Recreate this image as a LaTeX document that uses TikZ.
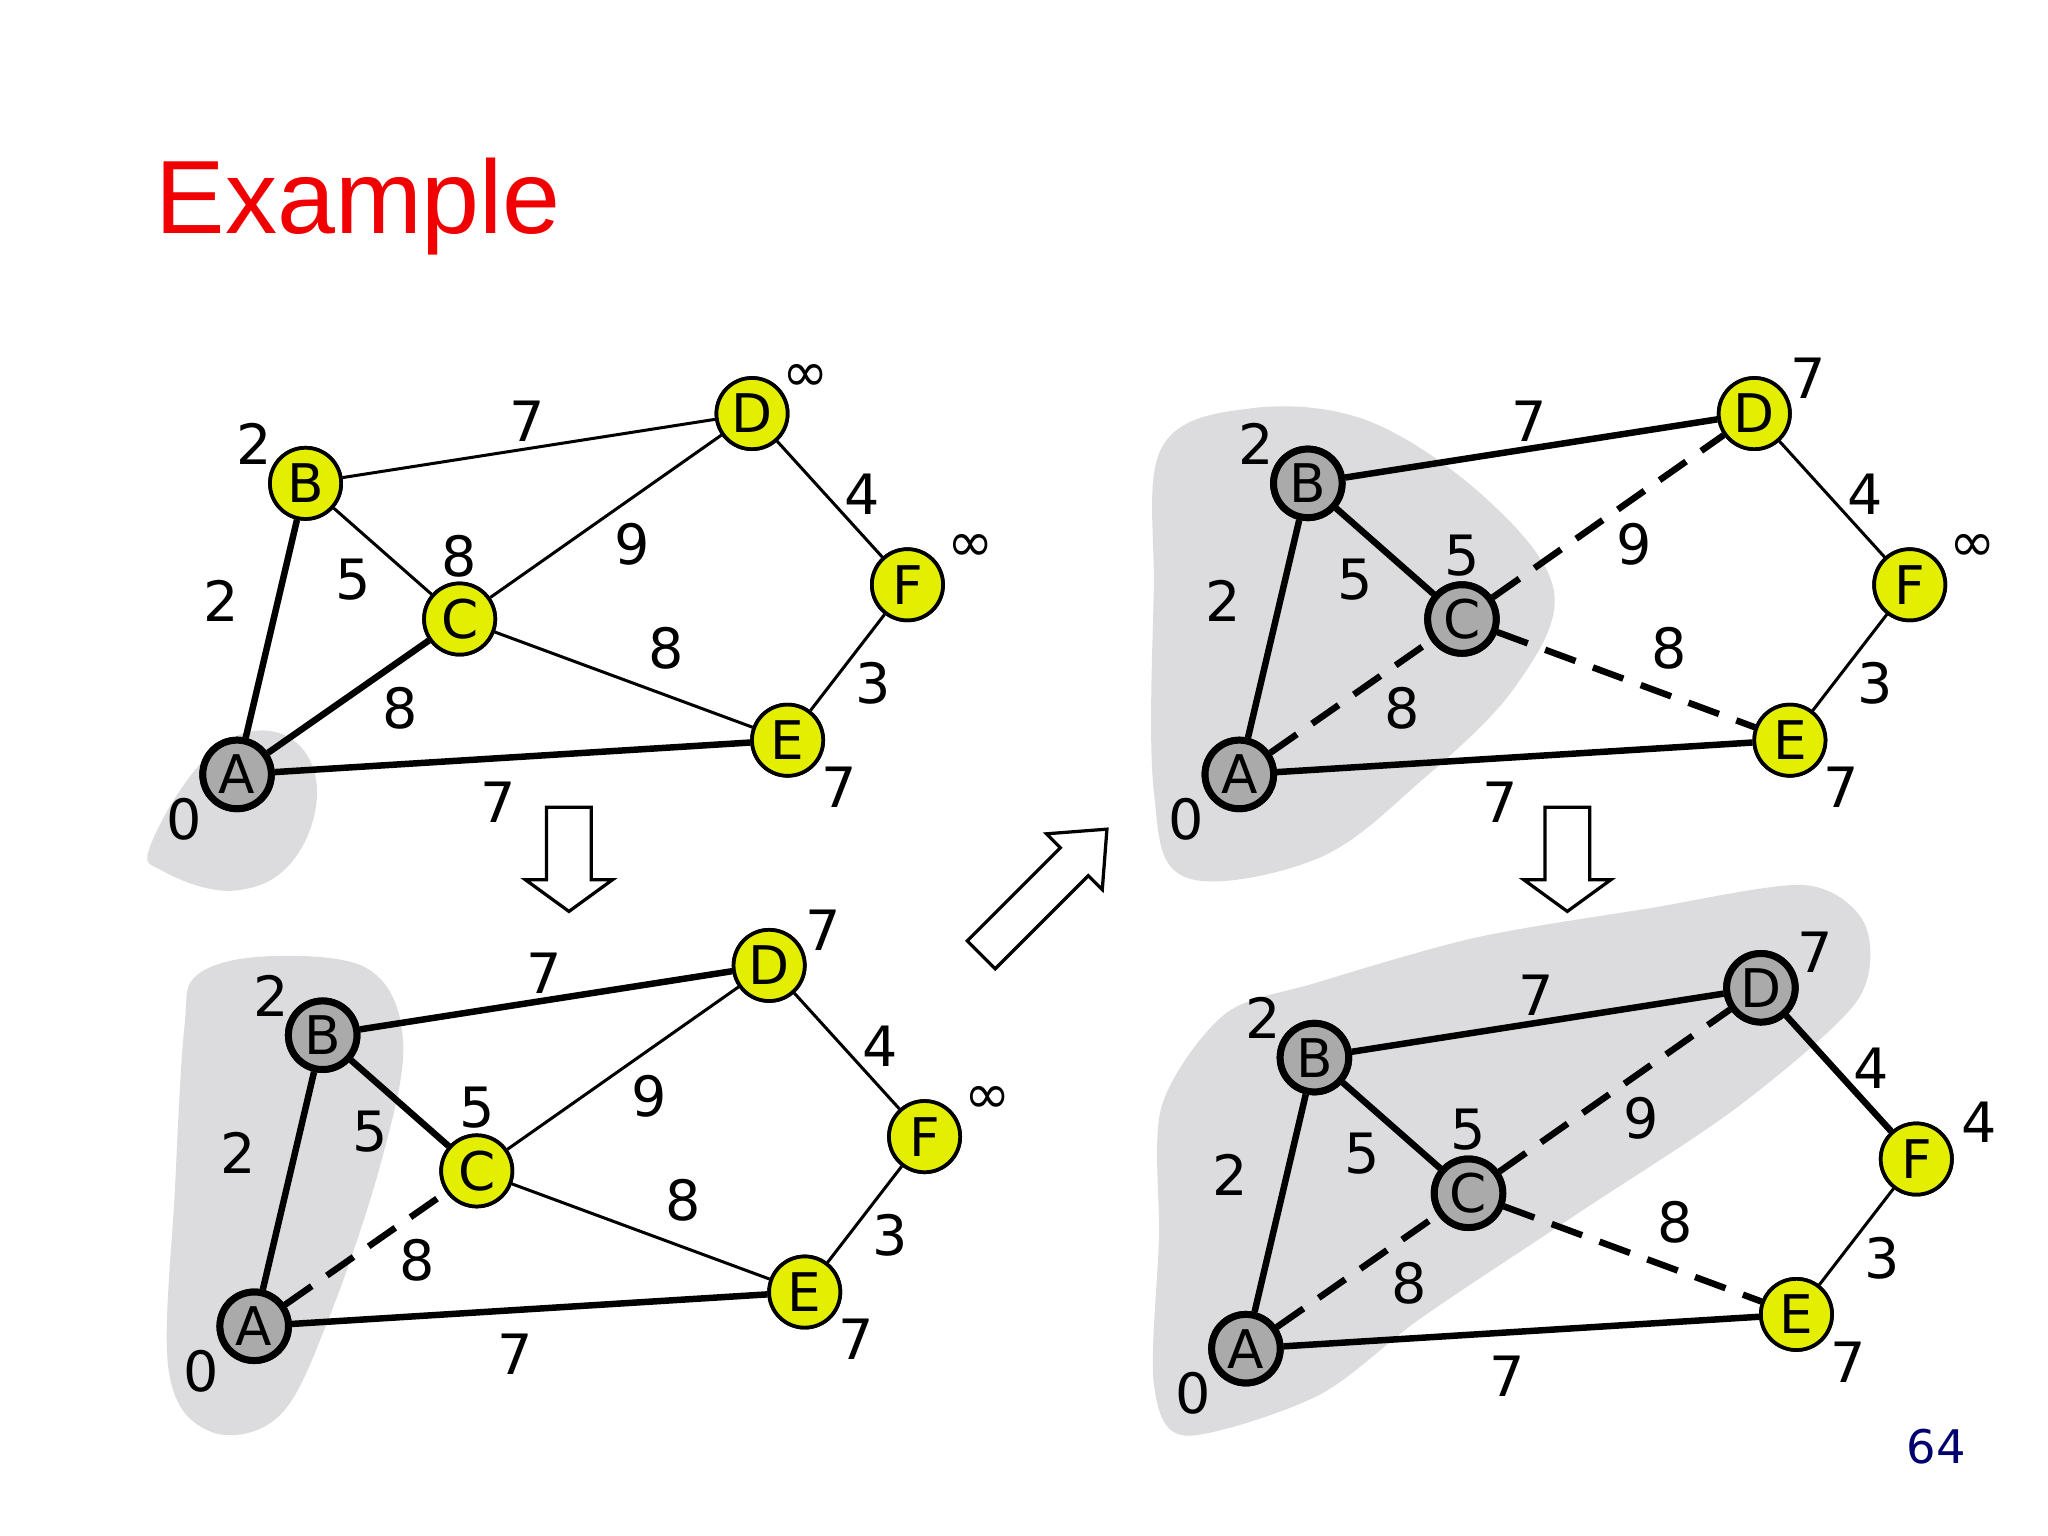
\documentclass[tikz,border=0pt]{standalone}
\usepackage{fontspec}
\setmainfont{DejaVu Sans}
\newfontfamily\titlefont{Liberation Sans}
\begin{document}
\begin{tikzpicture}[x=0.01cm,y=-0.01cm,
  yn/.style={circle,draw=black,line width=0.8pt,fill={rgb,255:red,228;green,238;blue,0},minimum size=0.54cm,inner sep=0pt,font=\fontsize{11.5}{13}\selectfont},
  gn/.style={circle,draw=black,line width=1.5pt,fill={rgb,255:red,170;green,170;blue,170},minimum size=0.52cm,inner sep=0pt,font=\fontsize{11.5}{13}\selectfont},
  th/.style={line width=0.65pt},
  tk/.style={line width=1.4pt},
  ds/.style={line width=1.4pt,dash pattern=on 7pt off 4pt},
  lb/.style={font=\fontsize{12}{14}\selectfont,inner sep=0pt},
  blob/.style={fill={rgb,255:red,220;green,219;blue,222}},
  harrow/.style={draw=black,line width=0.7pt,fill=white}]
\useasboundingbox (0,0) rectangle (1555,1166);
\fill[white] (0,0) rectangle (1555,1166);
\node[font=\titlefont\fontsize{22.5}{26}\selectfont,text={rgb,255:red,240;green,0;blue,0},inner sep=0pt] (title) at (272,157) {Example};
\node[font=\fontsize{10}{12}\selectfont,text={rgb,255:red,0;green,0;blue,110},inner sep=0pt] (pg) at (1470,1098) {64};
% blobs
\fill[blob] plot[smooth cycle,tension=0.7] coordinates {(115,640)(160,572)(210,556)(240,592)(225,650)(180,676)(125,662)};
\fill[blob] plot[smooth cycle,tension=0.6] coordinates {(150,740)(205,726)(280,736)(306,790)(290,880)(250,1000)(212,1075)(160,1087)(128,1040)(133,900)(140,780)};
\fill[blob] plot[smooth cycle,tension=0.6] coordinates {(882,340)(950,310)(1040,320)(1130,380)(1180,450)(1150,522)(1080,592)(1000,652)(900,666)(876,600)(876,450)};
\fill[blob] plot[smooth cycle,tension=0.5] coordinates {(882,840)(930,770)(1000,746)(1120,712)(1250,690)(1370,672)(1416,702)(1410,760)(1320,840)(1200,920)(1080,1000)(1000,1060)(900,1090)(876,1050)(880,940)};
% arrows
\foreach \x in {432,1190}{
 \draw[harrow] (\x-17,613) -- (\x+17,613) -- (\x+17,668) -- (\x+33,668) -- (\x,692) -- (\x-33,668) -- (\x-17,668) -- cycle;}
\begin{scope}[shift={(745,725)},rotate=45]
 \draw[harrow] (0,-15) -- (100,-15) -- (100,-30) -- (135,0) -- (100,30) -- (100,15) -- (0,15) -- cycle;
\end{scope}
\newcommand\drawgraph[7]{%
 \begin{scope}[shift={(#2)}]
 \node[#3] (#1A) at (180,588) {A};
 \node[#4] (#1B) at (232,367) {B};
 \node[#5] (#1C) at (349,470) {C};
 \node[#6] (#1D) at (571,314) {D};
 \node[#7] (#1E) at (598,562) {E};
 \node[yn] (#1F) at (689,444) {F};
 \end{scope}}
\newcommand\drawlabels[5]{%
 \begin{scope}[shift={(#2)}]
 \node[lb] (#1lA) at (140,622) {0};
 \node[lb] (#1lB) at (193,337) {2};
 \node[lb] (#1lC) at (349,422) {#3};
 \node[lb] (#1lD) at (612,287) {#4};
 \node[lb] (#1lF) at (737,416) {#5};
 \node[lb] (#1lE) at (637,598) {7};
 \node[lb] (#1w1) at (168,456) {2};
 \node[lb] (#1w2) at (268,440) {5};
 \node[lb] (#1w3) at (400,320) {7};
 \node[lb] (#1w4) at (304,538) {8};
 \node[lb] (#1w5) at (480,413) {9};
 \node[lb] (#1w6) at (506,492) {8};
 \node[lb] (#1w7) at (655,375) {4};
 \node[lb] (#1w8) at (663,519) {3};
 \node[lb] (#1w9) at (378,609) {7};
 \end{scope}}
\drawgraph{a}{0,0}{gn}{yn}{yn}{yn}{yn}
\drawlabels{a}{0,0}{8}{∞}{∞}
\drawgraph{b}{13,419}{gn}{gn}{yn}{yn}{yn}
\drawlabels{b}{13,419}{5}{7}{∞}
\drawgraph{c}{761,0}{gn}{gn}{gn}{yn}{yn}
\drawlabels{c}{761,0}{5}{7}{∞}
\drawgraph{d}{766,436}{gn}{gn}{gn}{gn}{yn}
\drawlabels{d}{766,436}{5}{7}{4}
% edges G1
\draw[tk] (aA)--(aB); \draw[tk] (aA)--(aC); \draw[tk] (aA)--(aE);
\draw[th] (aB)--(aC); \draw[th] (aB)--(aD); \draw[th] (aC)--(aD);
\draw[th] (aC)--(aE); \draw[th] (aD)--(aF); \draw[th] (aE)--(aF);
% edges G2
\draw[tk] (bA)--(bB); \draw[ds] (bA)--(bC); \draw[tk] (bA)--(bE);
\draw[tk] (bB)--(bC); \draw[tk] (bB)--(bD); \draw[th] (bC)--(bD);
\draw[th] (bC)--(bE); \draw[th] (bD)--(bF); \draw[th] (bE)--(bF);
% edges G3
\draw[tk] (cA)--(cB); \draw[ds] (cA)--(cC); \draw[tk] (cA)--(cE);
\draw[tk] (cB)--(cC); \draw[tk] (cB)--(cD); \draw[ds] (cC)--(cD);
\draw[ds] (cC)--(cE); \draw[th] (cD)--(cF); \draw[th] (cE)--(cF);
% edges G4
\draw[tk] (dA)--(dB); \draw[ds] (dA)--(dC); \draw[tk] (dA)--(dE);
\draw[tk] (dB)--(dC); \draw[tk] (dB)--(dD); \draw[ds] (dC)--(dD);
\draw[ds] (dC)--(dE); \draw[tk] (dD)--(dF); \draw[th] (dE)--(dF);
% redraw nodes on top
\drawgraph{a}{0,0}{gn}{yn}{yn}{yn}{yn}
\drawgraph{b}{13,419}{gn}{gn}{yn}{yn}{yn}
\drawgraph{c}{761,0}{gn}{gn}{gn}{yn}{yn}
\drawgraph{d}{766,436}{gn}{gn}{gn}{gn}{yn}
\end{tikzpicture}
\end{document}
